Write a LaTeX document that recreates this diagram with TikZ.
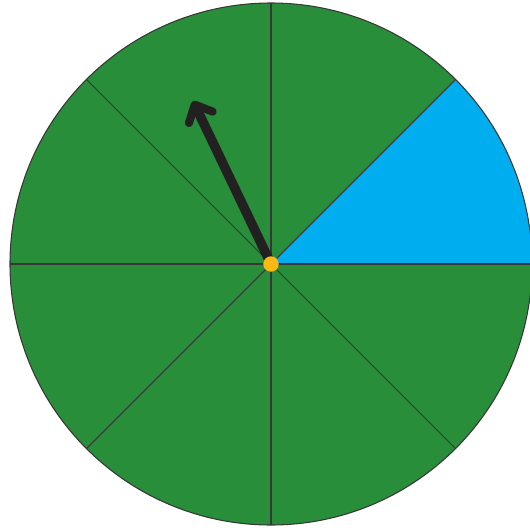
\documentclass[tikz,border=0pt]{standalone}
\usetikzlibrary{arrows.meta}
\definecolor{wheelgreen}{RGB}{40,142,58}
\definecolor{wheelblue}{RGB}{0,174,239}
\definecolor{hubyellow}{RGB}{253,185,19}
\definecolor{pointer}{RGB}{34,32,33}
\tikzset{
  divider/.style={draw=pointer!90, line width=0.6pt},
  pointerarrow/.style={draw=pointer, line width=5.4pt,
    -{Straight Barb[length=8pt, width=15pt, line width=4.6pt, round=false]}},
  hub/.style={circle, fill=hubyellow, inner sep=0pt, minimum size=8.8pt}
}
\begin{document}
\begin{tikzpicture}[x=0.02cm,y=-0.02cm]
\useasboundingbox (0,0) rectangle (530,531);
\coordinate (c) at (271,264);
\def\R{261}
\fill[wheelgreen] (c) circle[radius=\R];
\fill[wheelblue] (c) -- ++(0:\R) arc[start angle=0, end angle=-45, radius=\R] -- cycle;
\foreach \a in {0,45,...,315} \draw[divider] (c) -- ++(\a:\R);
\draw[divider] (c) circle[radius=\R];
\coordinate (tip) at (193,101);
\draw[pointerarrow] (c) -- (tip);
\node[hub] (hubdot) at (c) {};
\end{tikzpicture}
\end{document}
